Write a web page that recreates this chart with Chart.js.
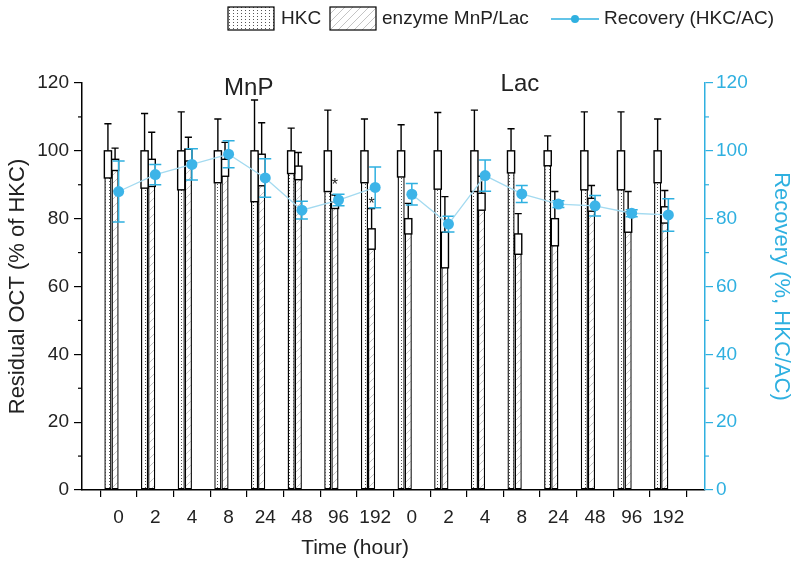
<!DOCTYPE html>
<html>
<head>
<meta charset="utf-8">
<script src="https://cdn.jsdelivr.net/npm/chart.js@4.4.1/dist/chart.umd.min.js"></script>
<style>
  body { margin: 0; background: #fff; }
  #wrap { width: 794px; height: 565px; }
</style>
</head>
<body>
<div id="wrap"><canvas id="chartOct"></canvas></div>
<script>
// Time points, MnP group first then Lac group
const timeLabels = ['0', '2', '4', '8', '24', '48', '96', '192',
                    '0', '2', '4', '8', '24', '48', '96', '192'];

const hkcValues = [100, 100, 100, 100, 100, 100, 100, 100,
                   100, 100, 100, 100, 100, 100, 100, 100];
const hkcErrors = [8, 11, 11.5, 9.4, 15, 6.7, 12, 9.4,
                   7.7, 11.3, 12, 6.5, 4.4, 11.5, 11.5, 9.4];

const enzymeValues = [97.5, 97.5, 100.5, 97.5, 99, 95.5, 85, 77,
                      80, 76, 87.5, 75.5, 80, 86, 82, 83.5];
const enzymeErrors = [3.3, 8, 3.5, 5, 9.3, 4, 2, 6,
                      4.5, 10.5, 5, 6, 8, 3.8, 6, 4.8];

const recoveryMnP = [88, 93, 96, 99, 92, 82.5, 85.5, 89.2];
const recoveryLac = [87.2, 78.4, 92.7, 87.3, 84.3, 83.8, 81.6, 81.1];
const recoveryErrors = [9, 3, 4.6, 4, 5.7, 2.6, 1.7, 6,
                        3.2, 2.3, 4.6, 2.5, 1, 3, 1, 4.8];

// significance marks (index into timeLabels, value on left axis)
const starIndex = [6, 7];
const starValues = [90.5, 85];

const blue = '#2fb0e0';
const FONT = '"Liberation Sans", Arial, sans-serif';

// labels with an empty slot at each end so the groups sit off the axes
const xLabels = [''].concat(timeLabels, ['']);
function pad(arr) { return [null].concat(arr, [null]); }
const n = timeLabels.length;
const recMnPData = pad(recoveryMnP.concat(new Array(8).fill(null)));
const recLacData = pad(new Array(8).fill(null).concat(recoveryLac));

const ctx = document.getElementById('chartOct').getContext('2d');

// fill patterns
function makeDots() {
    const c = document.createElement('canvas');
    c.width = 4; c.height = 3;
    const g = c.getContext('2d');
    g.fillStyle = '#fff'; g.fillRect(0, 0, 4, 3);
    g.fillStyle = '#555'; g.fillRect(1, 1, 1, 1);
    return ctx.createPattern(c, 'repeat');
}
function makeHatch() {
    const c = document.createElement('canvas');
    c.width = 8; c.height = 8;
    const g = c.getContext('2d');
    g.fillStyle = '#fff'; g.fillRect(0, 0, 8, 8);
    g.strokeStyle = '#c4c4c4'; g.lineWidth = 1;
    g.beginPath();
    g.moveTo(0, 8); g.lineTo(8, 0);
    g.moveTo(-1, 1); g.lineTo(1, -1);
    g.moveTo(7, 9); g.lineTo(9, 7);
    g.stroke();
    return ctx.createPattern(c, 'repeat');
}
const dots = makeDots();
const hatch = makeHatch();

// error bars, group titles, stars, minor ticks and legend
const extrasPlugin = {
    id: 'extras',
    beforeDatasetDraw(chart, args) {
        const ds = chart.data.datasets[args.index];
        if (ds.type !== 'line') return;
        const y1 = chart.scales.y1;
        const c = chart.ctx;
        c.save();
        c.strokeStyle = blue;
        c.lineWidth = 1.5;
        args.meta.data.forEach((pt, j) => {
            const v = ds.data[j];
            if (v == null) return;
            const e = recoveryErrors[j - 1];
            const t = y1.getPixelForValue(v + e), b = y1.getPixelForValue(v - e);
            c.beginPath();
            c.moveTo(pt.x, t); c.lineTo(pt.x, b);
            c.moveTo(pt.x - 6, t); c.lineTo(pt.x + 6, t);
            c.moveTo(pt.x - 6, b); c.lineTo(pt.x + 6, b);
            c.stroke();
        });
        c.restore();
    },
    afterDatasetDraw(chart, args) {
        const ds = chart.data.datasets[args.index];
        if (!ds.errors) return;
        const y = chart.scales.y;
        const c = chart.ctx;
        c.save();
        c.strokeStyle = '#000';
        c.lineWidth = 1.4;
        args.meta.data.forEach((bar, j) => {
            const v = ds.data[j];
            if (v == null) return;
            const e = ds.errors[j - 1];
            const w = bar.width;
            const t = y.getPixelForValue(v + e), b = y.getPixelForValue(v - e);
            c.fillStyle = '#fff';
            c.fillRect(bar.x - w / 2, bar.y, w, b - bar.y);
            c.strokeRect(bar.x - w / 2, bar.y, w, b - bar.y);
            c.beginPath();
            c.moveTo(bar.x, bar.y); c.lineTo(bar.x, t);
            c.moveTo(bar.x - w / 2, t); c.lineTo(bar.x + w / 2, t);
            c.stroke();
        });
        c.restore();
    },
    afterDraw(chart) {
        const c = chart.ctx;
        const x = chart.scales.x, y = chart.scales.y, y1 = chart.scales.y1;
        c.save();
        // short minor ticks at the odd tens
        c.lineWidth = 1.2;
        for (let v = 10; v < 120; v += 20) {
            const py = y.getPixelForValue(v);
            c.strokeStyle = '#000';
            c.beginPath(); c.moveTo(y.right - 4, py); c.lineTo(y.right, py); c.stroke();
            c.strokeStyle = blue;
            c.beginPath(); c.moveTo(y1.left, py); c.lineTo(y1.left + 4, py); c.stroke();
        }
        c.fillStyle = '#222';
        c.textAlign = 'center';
        c.textBaseline = 'middle';
        // x axis title sits left of centre in the original
        c.font = '21px ' + FONT;
        c.fillText('Time (hour)', 355, 548);
        // group titles
        c.font = '24px ' + FONT;
        c.fillText('MnP', x.getPixelForValue(4.55), y.getPixelForValue(118.5));
        c.fillText('Lac', x.getPixelForValue(11.95), y.getPixelForValue(119.5));
        // stars
        const enzMeta = chart.getDatasetMeta(2);
        c.font = '16px ' + FONT;
        starIndex.forEach((idx, k) => {
            const bar = enzMeta.data[idx + 1];
            c.fillText('*', bar.x, y.getPixelForValue(starValues[k]) + 3);
        });
        // legend
        c.font = '19px ' + FONT;
        c.textAlign = 'left';
        c.lineWidth = 1.2;
        c.strokeStyle = '#000';
        c.fillStyle = dots;
        c.fillRect(228, 7, 46, 23); c.strokeRect(228, 7, 46, 23);
        c.fillStyle = hatch;
        c.fillRect(330, 7, 46, 23); c.strokeRect(330, 7, 46, 23);
        c.fillStyle = '#222';
        c.fillText('HKC', 281, 19);
        c.fillText('enzyme MnP/Lac', 382, 19);
        c.strokeStyle = blue;
        c.lineWidth = 1.5;
        c.beginPath(); c.moveTo(551, 19); c.lineTo(599, 19); c.stroke();
        c.fillStyle = blue;
        c.beginPath(); c.arc(575, 19, 4, 0, Math.PI * 2); c.fill();
        c.fillStyle = '#222';
        c.fillText('Recovery (HKC/AC)', 604, 19);
        c.restore();
    }
};

const tickFont = { family: FONT, size: 19 };

new Chart(ctx, {
    data: {
        labels: xLabels,
        datasets: [
            {
                type: 'line', label: 'Recovery (HKC/AC)', data: recMnPData, yAxisID: 'y1', order: 0,
                borderColor: '#a3daf0', borderWidth: 1.3, pointRadius: 5.5,
                pointBackgroundColor: '#3cb4e8', pointBorderWidth: 0, spanGaps: false
            },
            {
                type: 'bar', label: 'HKC', data: pad(hkcValues), errors: hkcErrors, order: 1,
                backgroundColor: dots, borderColor: '#000', borderWidth: 1.4, borderSkipped: false
            },
            {
                type: 'bar', label: 'enzyme MnP/Lac', data: pad(enzymeValues), errors: enzymeErrors, order: 1,
                backgroundColor: hatch, borderColor: '#000', borderWidth: 1.4, borderSkipped: false
            },
            { type: 'bar', label: '', data: new Array(n + 2).fill(null), order: 1 },
            { type: 'bar', label: '', data: new Array(n + 2).fill(null), order: 1 },
            {
                type: 'line', label: 'Recovery Lac', data: recLacData, yAxisID: 'y1', order: 0,
                borderColor: '#a3daf0', borderWidth: 1.3, pointRadius: 5.5,
                pointBackgroundColor: '#3cb4e8', pointBorderWidth: 0, spanGaps: false
            }
        ]
    },
    options: {
        responsive: true,
        maintainAspectRatio: false,
        animation: false,
        layout: { padding: { top: 83, left: 0, right: 0, bottom: 0 } },
        datasets: { bar: { categoryPercentage: 0.78, barPercentage: 1 } },
        plugins: { legend: { display: false }, tooltip: { enabled: false } },
        scales: {
            x: {
                type: 'category',
                offset: false,
                grid: { drawOnChartArea: false, color: '#000', tickLength: 7, lineWidth: 1.2 },
                border: { color: '#000', width: 1.5 },
                ticks: { font: tickFont, color: '#222', padding: 9, maxRotation: 0, autoSkip: false },
                title: { display: false },
                afterFit: s => { s.height = 75; }
            },
            y: {
                position: 'left',
                min: 0, max: 120,
                grid: { drawOnChartArea: false, tickLength: 8, lineWidth: 1.2,
                        tickColor: c => (c.tick && c.tick.value % 20 ? 'transparent' : '#000') },
                border: { color: '#000', width: 1.5 },
                ticks: { stepSize: 10, font: tickFont, color: '#222', padding: 5,
                         callback: v => (v % 20 === 0 ? v : '') },
                title: { display: true, text: 'Residual OCT (% of HKC)', font: { family: FONT, size: 22 }, color: '#222', padding: { top: 5, bottom: 0 } },
                afterFit: s => { s.width = 82; }
            },
            y1: {
                position: 'right',
                min: 0, max: 120,
                grid: { drawOnChartArea: false, tickLength: 8, lineWidth: 1.2,
                        tickColor: c => (c.tick && c.tick.value % 20 ? 'transparent' : blue) },
                border: { color: blue, width: 1.5 },
                ticks: { stepSize: 10, font: tickFont, color: blue, padding: 3,
                         callback: v => (v % 20 === 0 ? v : '') },
                title: { display: true, text: 'Recovery (%, HKC/AC)', font: { family: FONT, size: 22 }, color: blue, padding: { top: 0, bottom: 8 } },
                afterFit: s => { s.width = 89; }
            }
        }
    },
    plugins: [extrasPlugin]
});
</script>
</body>
</html>
